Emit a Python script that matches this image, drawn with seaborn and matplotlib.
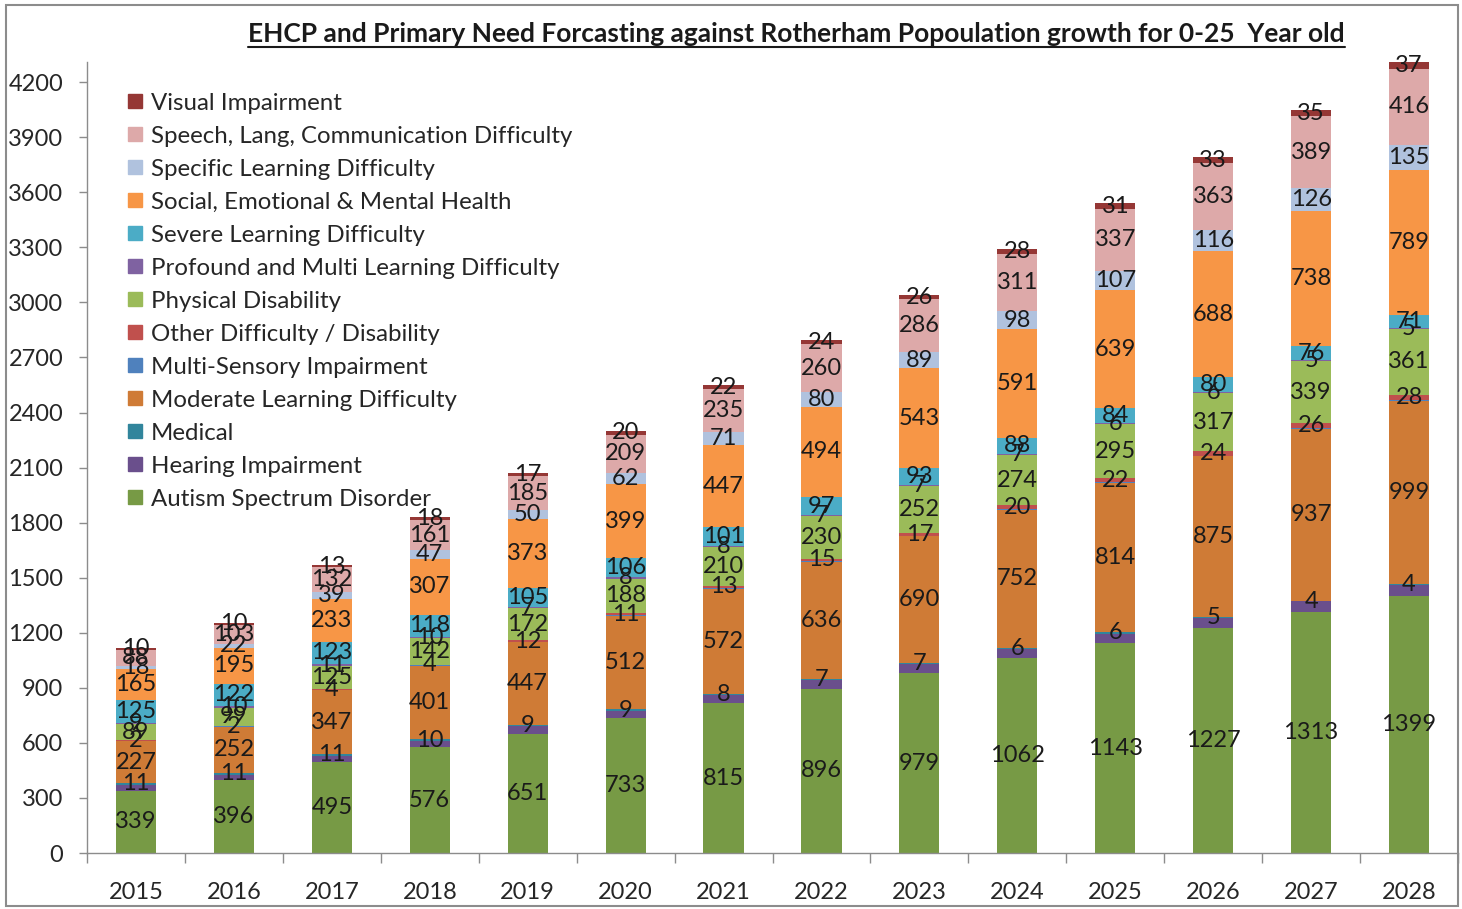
import numpy as np
import pandas as pd
import seaborn as sns
import matplotlib.pyplot as plt
from matplotlib.lines import Line2D
from matplotlib.patches import Rectangle

# --- data ---
years = [2015, 2016, 2017, 2018, 2019, 2020, 2021, 2022, 2023, 2024, 2025, 2026, 2027, 2028]

visual = [10, 10, 13, 18, 17, 20, 22, 24, 26, 28, 31, 33, 35, 37]
speech = [88, 103, 132, 161, 185, 209, 235, 260, 286, 311, 337, 363, 389, 416]
specific = [18, 22, 39, 47, 50, 62, 71, 80, 89, 98, 107, 116, 126, 135]
semh = [165, 195, 233, 307, 373, 399, 447, 494, 543, 591, 639, 688, 738, 789]
severe = [125, 122, 123, 118, 105, 106, 101, 97, 93, 88, 84, 80, 76, 71]
profound = [9, 10, 11, 10, 7, 8, 8, 7, 7, 7, 6, 6, 5, 5]
physical = [89, 99, 125, 142, 172, 188, 210, 230, 252, 274, 295, 317, 339, 361]
other = [2, 2, 4, 4, 12, 11, 13, 15, 17, 20, 22, 24, 26, 28]
multi_sensory = [2, 2, 2, 2, 2, 2, 3, 3, 3, 3, 3, 3, 3, 3]      # thin line, no label shown
moderate = [227, 252, 347, 401, 447, 512, 572, 636, 690, 752, 814, 875, 937, 999]
medical = [11, 11, 11, 10, 9, 9, 8, 7, 7, 6, 6, 5, 4, 4]
hearing = [32, 29, 34, 34, 40, 40, 45, 47, 50, 51, 53, 55, 58, 63]  # band height estimated, no label
autism = [339, 396, 495, 576, 651, 733, 815, 896, 979, 1062, 1143, 1227, 1313, 1399]

# legend order (top to bottom); stack order is the reverse
needs = [
    "Visual Impairment",
    "Speech, Lang, Communication Difficulty",
    "Specific Learning Difficulty",
    "Social, Emotional & Mental Health",
    "Severe Learning Difficulty",
    "Profound and Multi Learning Difficulty",
    "Physical Disability",
    "Other Difficulty / Disability",
    "Multi-Sensory Impairment",
    "Moderate Learning Difficulty",
    "Medical",
    "Hearing Impairment",
    "Autism Spectrum Disorder",
]
values = [visual, speech, specific, semh, severe, profound, physical,
          other, multi_sensory, moderate, medical, hearing, autism]
colors = ["#953735", "#DDA9A9", "#B0C2DE", "#F79646", "#4BACC6", "#7F62A1",
          "#9BBB59", "#C0504D", "#4F81BD", "#CF7B36", "#31859C", "#6A4F8C",
          "#779A45"]
unlabelled = ["Multi-Sensory Impairment", "Hearing Impairment"]

palette = dict(zip(needs, colors))
df = pd.DataFrame(
    [(y, n, v) for n, vals in zip(needs, values) for y, v in zip(years, vals)],
    columns=["year", "need", "count"],
)

sns.set_style("white")
plt.rcParams["font.family"] = ["Lato", "DejaVu Sans"]
text_col = "#262626"

fig = plt.figure(figsize=(14.62, 9.09), dpi=100)
ax = fig.add_axes([87 / 1462, 1 - 853 / 909, (1458 - 87) / 1462, (853 - 62) / 909])

sns.histplot(data=df, x="year", weights="count", hue="need", hue_order=needs,
             palette=palette, multiple="stack", discrete=True, shrink=0.41,
             alpha=1, linewidth=0, legend=False, ax=ax)

# data labels in the middle of each segment
base = np.zeros(len(years))
for n, vals in zip(needs[::-1], values[::-1]):
    vals = np.array(vals)
    if n not in unlabelled:
        for x, b, v in zip(years, base, vals):
            ax.text(x, b + v / 2, str(v), ha="center", va="center",
                    fontsize=17, color="#1a1a1a")
    base = base + vals

ax.set_xlim(years[0] - 0.5, years[-1] + 0.5)
ax.set_ylim(0, 4310)
ax.set_yticks(np.arange(0, 4201, 300))
ax.set_xticks(years)
ax.set_xticks(np.arange(years[0] - 0.5, years[-1] + 1, 1), minor=True)
ax.set_xlabel("")
ax.set_ylabel("")
ax.tick_params(axis="x", which="major", length=0, pad=21, labelsize=17, labelcolor=text_col)
ax.tick_params(axis="x", which="minor", length=7, width=1, color="#8c8c8c", direction="out", bottom=True)
ax.tick_params(axis="y", length=6, width=1, color="#8c8c8c", pad=11, labelsize=17,
               labelcolor=text_col, direction="out", left=True)
for s in ["top", "right"]:
    ax.spines[s].set_visible(False)
for s in ["left", "bottom"]:
    ax.spines[s].set_color("#8c8c8c")
    ax.spines[s].set_linewidth(1)

handles = [Line2D([], [], marker="s", ls="", color=palette[n], markersize=10) for n in needs]
ax.legend(handles, needs, loc="upper left", bbox_to_anchor=(0.086, 0.898),
          bbox_transform=fig.transFigure, frameon=False, fontsize=17.3,
          handlelength=0.75, handletextpad=0.3, labelspacing=0.5,
          borderpad=0, borderaxespad=0, labelcolor=text_col)

title = fig.text(0.545, 0.963,
                 "EHCP and Primary Need Forcasting against Rotherham Popoulation growth for 0-25  Year old",
                 ha="center", va="center", fontsize=19, fontweight="bold", color="#1a1a1a")

# underline the title
fig.canvas.draw()
bb = title.get_window_extent().transformed(fig.transFigure.inverted())
fig.add_artist(Line2D([bb.x0, bb.x1], [bb.y0 - 0.002, bb.y0 - 0.002],
                      transform=fig.transFigure, color="#1a1a1a", lw=1.5))

# chart area border
fig.add_artist(Rectangle((0.004, 0.003), 0.993, 0.992, transform=fig.transFigure,
                         fill=False, ec="#8c8c8c", lw=1.5))

fig.savefig("out.png", dpi=100)
